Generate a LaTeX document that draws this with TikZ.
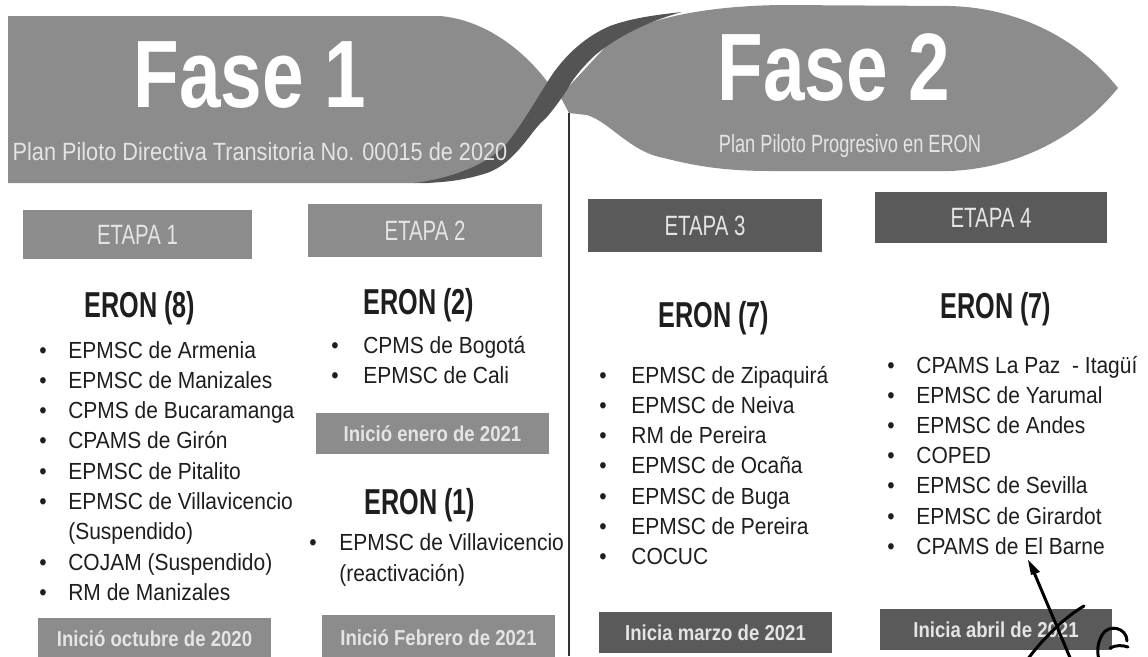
\documentclass[tikz,border=0pt]{standalone}
\usepackage{fontspec}
\usepackage{graphicx}
\setmainfont{Liberation Sans}
\newfontfamily\lstfont[FakeStretch=0.90]{Liberation Sans}
\newcommand{\sq}[2]{\scalebox{#1}[1]{#2}}
\definecolor{face}{HTML}{8C8C8C}
\definecolor{twist}{HTML}{545454}
\definecolor{boxA}{HTML}{8C8C8C}
\definecolor{boxB}{HTML}{5A5A5A}
\definecolor{ink}{HTML}{1E1E1E}
\definecolor{pale}{HTML}{E4E4E4}
\newcommand{\itm}[5]{%
  \node[bul] (#1b) at (#2,#4) {\textbullet};
  \node[item] (#1) at (#3,#4) {#5};}
\begin{document}
\begin{tikzpicture}[x=0.02cm,y=-0.02cm,
  title/.style={anchor=base,inner sep=0,text=white,font=\fontsize{54.5}{54.5}\selectfont\bfseries},
  subtitle/.style={anchor=base,inner sep=0,text=pale,font=\fontsize{14.2}{14.2}\selectfont},
  eron/.style={anchor=base,inner sep=0,text=ink,font=\fontsize{20.5}{20.5}\selectfont\bfseries},
  item/.style={anchor=base west,inner sep=0,text=ink,font=\lstfont\fontsize{13.26}{16}\selectfont},
  bul/.style={anchor=base,inner sep=0,text=ink,font=\lstfont\fontsize{13.26}{16}\selectfont},
  etapabox/.style={draw=none,inner sep=0,text=pale,text height=11.4pt,text depth=0pt,
    font=\fontsize{15.9}{15.9}\selectfont},
  datebox/.style={draw=none,inner sep=0,text=pale,text height=8.8pt,text depth=0pt,
    font=\fontsize{12.3}{12.3}\selectfont\bfseries},
  sig/.style={line width=1.7pt,line cap=round,line join=round,black}
]
\clip (0,0) rectangle (1148,656);
\fill[white] (0,0) rectangle (1148,656);

% ribbon faces
\fill[face] (8,16) -- (440,16) .. controls (485,20) and (525,50) .. (552,88)
  -- (567,90) .. controls (545,120) and (510,170) .. (430,183) -- (8,183) -- cycle;
\fill[face] (569,113) -- (587,115) .. controls (610,122) and (630,152) .. (664,158)
  .. controls (695,166) and (725,171) .. (770,171) -- (950,171)
  .. controls (1020,168) and (1080,135) .. (1118,88)
  .. controls (1080,40) and (1020,8) .. (950,6) -- (780,5)
  .. controls (720,6) and (650,14) .. (610,42) -- (560,96) -- cycle;
% twist
\fill[twist] (415,183) .. controls (465,176) and (495,158) .. (508,142)
  .. controls (522,124) and (533,105) .. (545,86)
  .. controls (560,60) and (582,38) .. (610,26)
  .. controls (632,18) and (655,15) .. (682,12)
  .. controls (645,22) and (612,40) .. (593,57)
  .. controls (580,70) and (572,80) .. (567,90)
  .. controls (552,112) and (545,120) .. (540,123)
  .. controls (525,142) and (510,165) .. (487,173)
  .. controls (465,180) and (445,183) .. (415,183) -- cycle;

% divider
\coordinate (divtop) at (569,113);
\coordinate (divbot) at (569,656);
\draw[line width=0.9pt,black!80] (divtop) -- (divbot);

% titles
\node[title] (f1) at (250,107) {\sq{0.78}{Fase 1}};
\node[title] (f2) at (834,100) {\sq{0.78}{Fase 2}};
\node[subtitle] (s1) at (260,160) {\sq{0.87}{Plan Piloto Directiva Transitoria No. 00015 de 2020}};
\node[subtitle] (s2) at (850,152) {\sq{0.73}{Plan Piloto Progresivo en ERON}};

% etapa boxes
\node[etapabox,fill=boxA,minimum width={229*0.5691pt},minimum height={49*0.5691pt}] (e1) at (137.5,234.5) {\sq{0.73}{ETAPA 1}};
\node[etapabox,fill=boxA,minimum width={234*0.5691pt},minimum height={53*0.5691pt}] (e2) at (425,230.5) {\sq{0.73}{ETAPA 2}};
\node[etapabox,fill=boxB,minimum width={234*0.5691pt},minimum height={53*0.5691pt}] (e3) at (705,225.5) {\sq{0.73}{ETAPA 3}};
\node[etapabox,fill=boxB,minimum width={232*0.5691pt},minimum height={51*0.5691pt}] (e4) at (991,217.5) {\sq{0.73}{ETAPA 4}};

% date boxes
\node[datebox,fill=boxA,minimum width={233*0.5691pt},minimum height={42*0.5691pt}] (d1) at (154.5,639) {\sq{0.86}{Inició octubre de 2020}};
\node[datebox,fill=boxA,minimum width={233*0.5691pt},minimum height={45*0.5691pt}] (d2) at (438.5,637.5) {\sq{0.86}{Inició Febrero de 2021}};
\node[datebox,fill=boxA,minimum width={233*0.5691pt},minimum height={41*0.5691pt}] (d2a) at (432.5,433.5) {\sq{0.86}{Inició enero de 2021}};
\node[datebox,fill=boxB,minimum width={233*0.5691pt},minimum height={41*0.5691pt}] (d3) at (715.5,632.5) {\sq{0.86}{Inicia marzo de 2021}};
\node[datebox,fill=boxB,minimum width={232*0.5691pt},minimum height={41*0.5691pt}] (d4) at (996,629.5) {\sq{0.86}{Inicia abril de 2021}};

% ERON headings
\node[eron] (h1) at (140,317) {\sq{0.70}{ERON (8)}};
\node[eron] (h2) at (419,314) {\sq{0.70}{ERON (2)}};
\node[eron] (h2a) at (420,514) {\sq{0.70}{ERON (1)}};
\node[eron] (h3) at (714,327) {\sq{0.70}{ERON (7)}};
\node[eron] (h4) at (996,318) {\sq{0.70}{ERON (7)}};

% stage 1 list
\itm{a1}{43}{68}{358}{EPMSC de Armenia}
\itm{a2}{43}{68}{388.3}{EPMSC de Manizales}
\itm{a3}{43}{68}{418.6}{CPMS de Bucaramanga}
\itm{a4}{43}{68}{448.9}{CPAMS de Girón}
\itm{a5}{43}{68}{479.2}{EPMSC de Pitalito}
\itm{a6}{43}{68}{509.5}{EPMSC de Villavicencio}
\node[item] (a6c) at (68,539.8) {(Suspendido)};
\itm{a7}{43}{68}{570.1}{COJAM (Suspendido)}
\itm{a8}{43}{68}{600.4}{RM de Manizales}

% stage 2 lists
\itm{b1}{335}{363}{353}{CPMS de Bogotá}
\itm{b2}{335}{363}{383}{EPMSC de Cali}
\itm{b3}{313}{339}{550}{EPMSC de Villavicencio}
\node[item] (b3c) at (339,581) {(reactivación)};

% stage 3 list
\itm{c1}{603}{631}{383}{EPMSC de Zipaquirá}
\itm{c2}{603}{631}{413.3}{EPMSC de Neiva}
\itm{c3}{603}{631}{443.6}{RM de Pereira}
\itm{c4}{603}{631}{473.9}{EPMSC de Ocaña}
\itm{c5}{603}{631}{504.2}{EPMSC de Buga}
\itm{c6}{603}{631}{534.5}{EPMSC de Pereira}
\itm{c7}{603}{631}{564.8}{COCUC}

% stage 4 list
\itm{g1}{891}{916}{373}{CPAMS La Paz \ - Itagüí}
\itm{g2}{891}{916}{403.2}{EPMSC de Yarumal}
\itm{g3}{891}{916}{433.4}{EPMSC de Andes}
\itm{g4}{891}{916}{463.6}{COPED}
\itm{g5}{891}{916}{493.8}{EPMSC de Sevilla}
\itm{g6}{891}{916}{524}{EPMSC de Girardot}
\itm{g7}{891}{916}{554.2}{CPAMS de El Barne}

% handwritten mark
\draw[sig] (1071,660) -- (1033,570);
\fill[black] (1028,560) -- (1040,572) -- (1031,575) -- cycle;
\draw[sig] (1084,606) .. controls (1070,614) and (1048,632) .. (1027,660);
\draw[sig] (1127,641) .. controls (1127,628) and (1109,623) .. (1102,635)
  .. controls (1097,644) and (1097,652) .. (1099,660);
\draw[sig] (1110,648) .. controls (1116,645) and (1122,645) .. (1128,647);
\end{tikzpicture}
\end{document}
